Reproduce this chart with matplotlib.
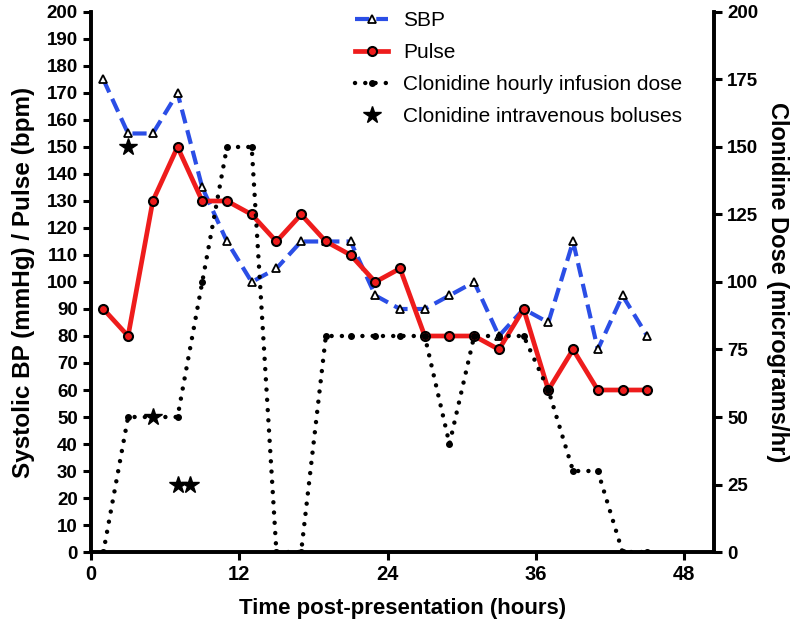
import matplotlib.pyplot as plt
import numpy as np

plt.rcParams['font.family'] = ['Liberation Sans', 'DejaVu Sans']

hours = [1, 3, 5, 7, 9, 11, 13, 15, 17, 19, 21, 23, 25, 27, 29, 31, 33, 35, 37, 39, 41, 43, 45]
sbp = [175, 155, 155, 170, 135, 115, 100, 105, 115, 115, 115, 95, 90, 90, 95, 100, 80, 90, 85, 115, 75, 95, 80]
pulse = [90, 80, 130, 150, 130, 130, 125, 115, 125, 115, 110, 100, 105, 80, 80, 80, 75, 90, 60, 75, 60, 60, 60]
dose = [0, 50, 50, 50, 100, 150, 150, 0, 0, 80, 80, 80, 80, 80, 40, 80, 80, 80, 60, 30, 30, 0, 0]
bolus_t = [3, 5, 7, 8]
bolus_y = [150, 50, 25, 25]

blue = '#2b4ee6'
red = '#ee1c1c'

fig = plt.figure(figsize=(7.99, 6.27), dpi=100)
ax = fig.add_axes([0.1139, 0.1196, 0.7797, 0.8613])
ax2 = ax.twinx()

l1, = ax.plot(hours, sbp, color=blue, lw=3.0, linestyle=(0, (3.4, 1.7)),
              marker='^', ms=6, mfc='white', mec='black', mew=1.3, zorder=3)
l2, = ax.plot(hours, pulse, color=red, lw=3.4, marker='o', ms=6.5,
              mfc=red, mec='black', mew=1.5, zorder=3)
l3, = ax2.plot(hours, dose, color='black', lw=3.2, linestyle=(0, (0.01, 2.3)),
               dash_capstyle='round', marker='o', ms=4, mfc='black', mec='black')
l4, = ax2.plot(bolus_t, bolus_y, linestyle='none', marker='*', ms=13, color='black')

for a in (ax, ax2):
    a.set_xlim(0, 50.4)
    a.set_ylim(0, 200)
    for s in a.spines.values():
        s.set_linewidth(2.6)
    a.spines['top'].set_visible(False)
    a.tick_params(width=2.2, length=6, labelsize=13.5)

ax.set_yticks(np.arange(0, 201, 10))
ax2.set_yticks(np.arange(0, 201, 25))
ax.set_xticks([0, 12, 24, 36, 48])
ax.tick_params(axis='x', labelsize=14.5)
for lab in ax.get_xticklabels() + ax.get_yticklabels() + ax2.get_yticklabels():
    lab.set_fontweight('bold')

ax.set_xlabel('Time post-presentation (hours)', fontsize=16, fontweight='bold', labelpad=10)
ax.set_ylabel('Systolic BP (mmHg) / Pulse (bpm)', fontsize=17.5, fontweight='bold', labelpad=8)
ax2.set_ylabel('Clonidine Dose (micrograms/hr)', fontsize=17, fontweight='bold',
               rotation=270, labelpad=22)

fig.legend([l1, l2, l3, l4],
           ['SBP', 'Pulse', 'Clonidine hourly infusion dose', 'Clonidine intravenous boluses'],
           loc='upper left', bbox_to_anchor=(0.421, 1.012), frameon=False, fontsize=15,
           handlelength=1.6, handletextpad=0.7, labelspacing=0.62)

fig.savefig('out.png', dpi=100)
